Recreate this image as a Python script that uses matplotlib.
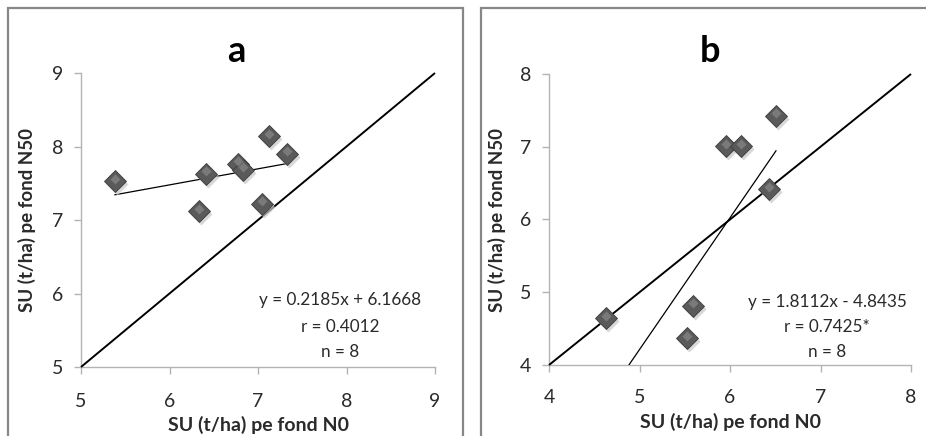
import matplotlib
matplotlib.use("Agg")
import matplotlib.pyplot as plt
from matplotlib.patches import Rectangle
from matplotlib.transforms import offset_copy
import numpy as np

plt.rcParams['font.family'] = ['Lato', 'DejaVu Sans']

# ---- data ----
a_x = [5.384, 6.337, 6.412, 6.778, 6.834, 7.041, 7.128, 7.331]
a_y = [7.526, 7.118, 7.630, 7.762, 7.685, 7.222, 8.138, 7.902]
a_slope, a_icpt = 0.2185, 6.1668
a_text = ["y = 0.2185x + 6.1668", "r = 0.4012", "n = 8"]
a_ticks = [5, 6, 7, 8, 9]

b_x = [4.630, 5.521, 5.595, 5.956, 6.118, 6.435, 6.508]
b_y = [4.641, 4.367, 4.811, 7.010, 7.010, 6.415, 7.423]
b_slope, b_icpt = 1.8112, -4.8435
b_text = ["y = 1.8112x - 4.8435", "r = 0.7425*", "n = 8"]
b_ticks = [4, 5, 6, 7, 8]

xlabel = "SU (t/ha) pe fond N0"
ylabel = "SU (t/ha) pe fond N50"

W, H = 926, 436
fig = plt.figure(figsize=(W / 100, H / 100), dpi=100)

def fx(px):
    return px / W

def fy(py):
    return 1 - py / H

# outer frames
for (x0, x1) in [(8, 463), (481, 940)]:
    fig.patches.append(Rectangle((fx(x0), fy(445)), fx(x1 - x0), (445 - 8) / H,
                                 transform=fig.transFigure, fill=False,
                                 edgecolor='#878787', linewidth=1.6, zorder=0))

def panel(box, xs, ys, slope, icpt, texts, ticks, title, title_cx, ylab_cx, xlab_cy, xpad, text_cx, text_cys):
    l, t, r, b = box
    ax = fig.add_axes([fx(l), fy(b), fx(r - l), (b - t) / H])
    lo, hi = ticks[0], ticks[-1]
    ax.set_xlim(lo, hi)
    ax.set_ylim(lo, hi)
    ax.set_xticks(ticks)
    ax.set_yticks(ticks)
    for s in ['top', 'right']:
        ax.spines[s].set_visible(False)
    for s in ['left', 'bottom']:
        ax.spines[s].set_color('#b3b3b3')
        ax.spines[s].set_linewidth(1.0)
    ax.tick_params(axis='both', colors='#b3b3b3', labelcolor='#2a2a2a',
                   length=5, width=1.0, labelsize=14)
    ax.tick_params(axis='x', pad=xpad)
    ax.tick_params(axis='y', pad=8)
    # 1:1 line
    ax.plot([lo, hi], [lo, hi], color='black', lw=1.4, zorder=3, clip_on=False,
            solid_capstyle='butt')
    # trendline
    tx = np.array([min(xs), max(xs)])
    ax.plot(tx, slope * tx + icpt, color='black', lw=0.9, zorder=3)
    # markers with shadow
    sh = offset_copy(ax.transData, fig=fig, x=2, y=-3, units='dots')
    ax.plot(xs, ys, 'D', transform=sh, ms=11, color='#c8c8c8', mec='none',
            alpha=0.7, zorder=4, clip_on=False)
    ax.plot(xs, ys, 'D', ms=11, color='#5a5a5a', mec='#3c3c3c', mew=0.6,
            zorder=5, clip_on=False)
    hl = offset_copy(ax.transData, fig=fig, x=0, y=2.5, units='dots')
    ax.plot(xs, ys, 'D', transform=hl, ms=5.5, color='#7a7a7a', mec='none',
            zorder=6, clip_on=False)
    # annotations
    for s, cy in zip(texts, text_cys):
        fig.text(fx(text_cx), fy(cy), s, ha='center', va='center',
                 fontsize=12.3, color='#2a2a2a')
    fig.text(fx(title_cx), fy(62), title, ha='center', va='baseline',
             fontsize=26, fontweight='bold', color='black')
    fig.text(fx(ylab_cx), fy((t + b) / 2), ylabel, rotation=90, ha='center',
             va='center', fontsize=13.5, fontweight='bold', color='#2a2a2a')
    fig.text(fx((l + r) / 2), fy(xlab_cy), xlabel, ha='center', va='center',
             fontsize=14, fontweight='bold', color='#2a2a2a')
    return ax

panel((81, 73, 435, 367), a_x, a_y, a_slope, a_icpt, a_text, a_ticks, 'a',
      236, 27, 425, 14, 340, [300, 327, 352])
panel((549, 74, 911, 365), b_x, b_y, b_slope, b_icpt, b_text, b_ticks, 'b',
      710, 497, 422, 12, 827, [302, 327, 352])

fig.savefig('out.png', dpi=100)
